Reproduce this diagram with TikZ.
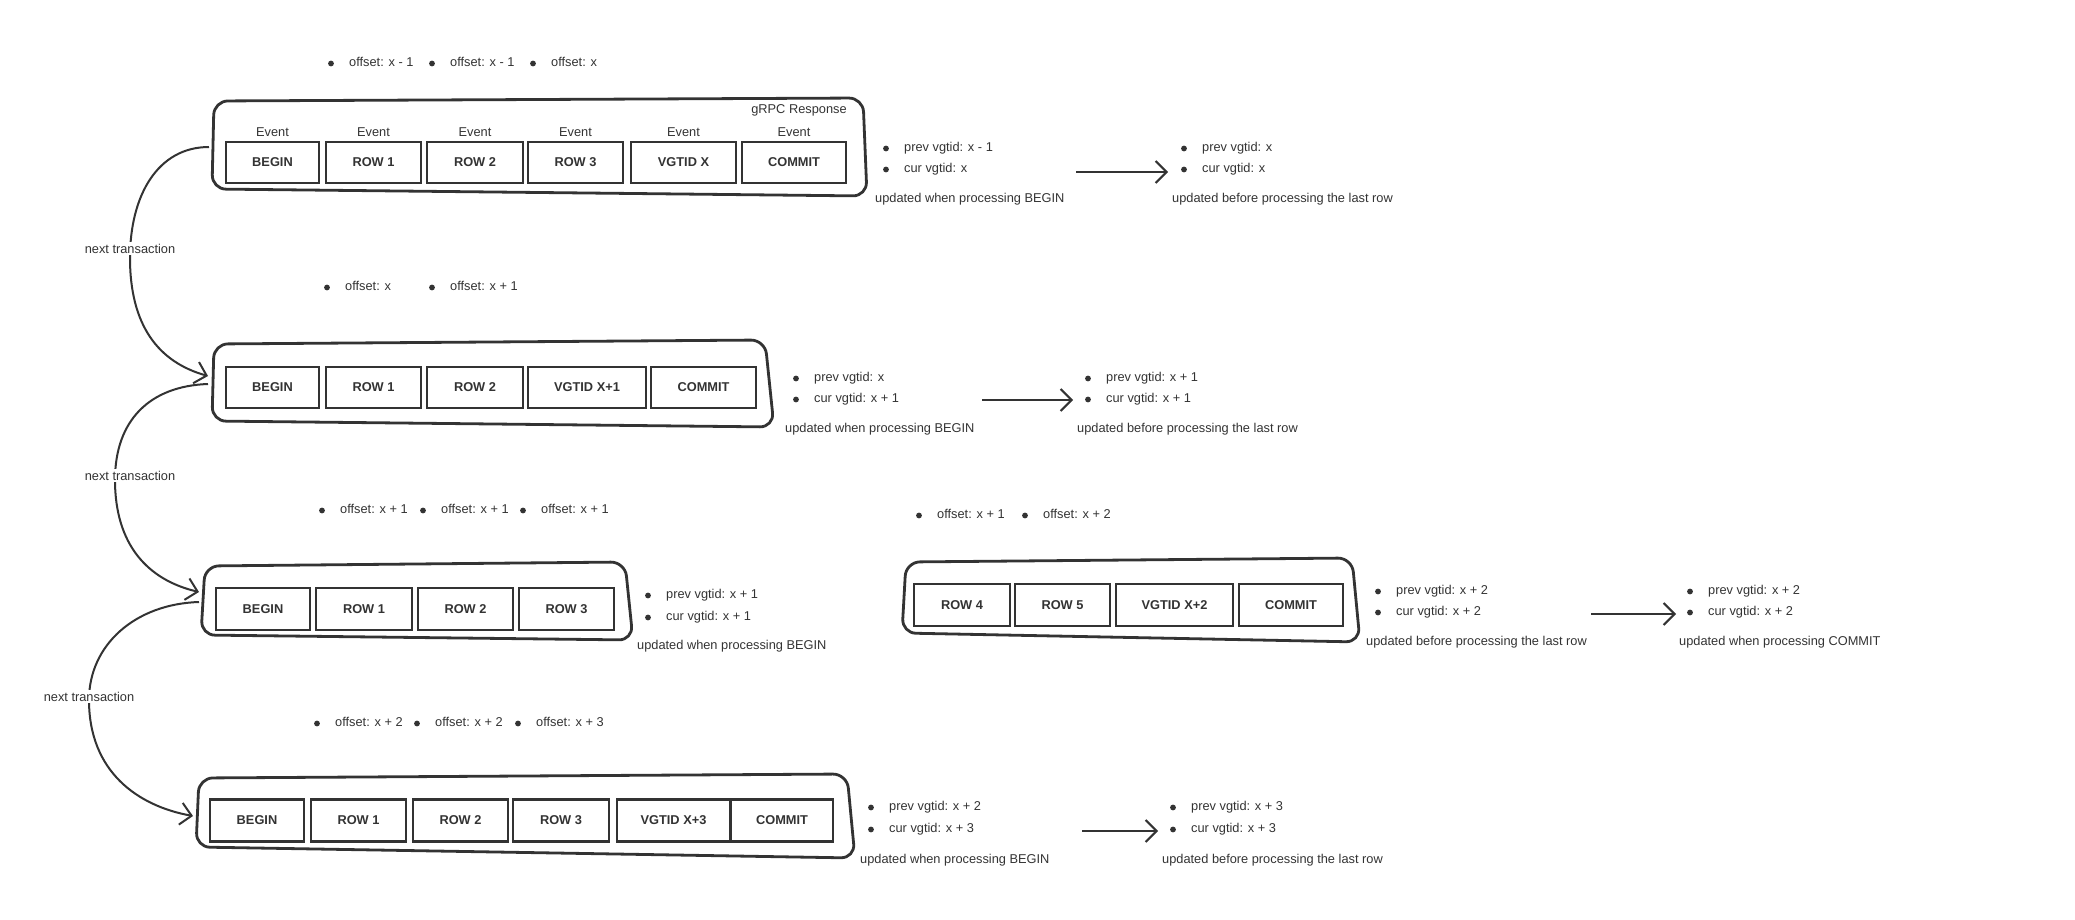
\documentclass[tikz,border=0pt]{standalone}
\usepackage{fontspec}
\setmainfont{Liberation Sans}
\usetikzlibrary{arrows.meta}
\definecolor{ink}{HTML}{333333}
\begin{document}
\begin{tikzpicture}[x=1pt,y=-1pt,
  txt/.style={font=\fontsize{12.8}{15}\selectfont, text=ink, inner sep=0pt, anchor=mid west, yshift=-2.5pt},
  btxt/.style={txt},
  ctxt/.style={txt, anchor=mid},
  evbox/.style={draw=ink, line width=2.7pt, fill=white, minimum height=41pt, inner sep=0pt,
    font=\bfseries\fontsize{12.8}{15}\selectfont, text=ink},
  cont/.style={draw=ink, line width=2.8pt, rounded corners=14pt, line join=round},
  conn/.style={draw=ink, line width=2pt, -{Straight Barb[length=11pt,width=22pt,line width=2pt]}},
  lbl/.style={txt, anchor=mid, fill=white, inner sep=1.5pt}
]
\useasboundingbox (0,0) rectangle (2075,920);

% ---------------- containers ----------------
\draw[cont] (214,101) -- (863,98) -- (867,196) -- (212,189) -- cycle;
\draw[cont] (214,344) -- (765,340) -- (774,427) -- (212,421) -- cycle;
\draw[cont] (205,566) -- (625,562) -- (633,640) -- (201,635) -- cycle;
\draw[cont] (906,562) -- (1352,558) -- (1360,642) -- (902,633) -- cycle;
\draw[cont] (199,778) -- (847,774) -- (855,858) -- (196,847) -- cycle;

% ---------------- row 1 ----------------
\node[btxt] (o11) at (349,61) {offset: x - 1};
\node[btxt] (o12) at (450,61) {offset: x - 1};
\node[btxt] (o13) at (551,61) {offset: x};
\node[ctxt] (grpc) at (799,108) {gRPC Response};
\node[evbox, minimum width=93pt] (a1) at (272.5,162.5) {BEGIN};
\node[evbox, minimum width=95pt] (a2) at (373.5,162.5) {ROW 1};
\node[evbox, minimum width=96pt] (a3) at (475,162.5) {ROW 2};
\node[evbox, minimum width=95pt] (a4) at (575.5,162.5) {ROW 3};
\node[evbox, minimum width=105pt] (a5) at (683.5,162.5) {VGTID X};
\node[evbox, minimum width=104pt] (a6) at (794,162.5) {COMMIT};
\foreach \n in {1,...,6} {\node[ctxt] (ev\n) at (a\n.center |- 0,131) {Event};}
\node[btxt] (v11) at (904,146) {prev vgtid: x - 1};
\node[btxt] (v12) at (904,167) {cur vgtid: x};
\node[txt] (u11) at (875,197) {updated when processing BEGIN};
\node[btxt] (v13) at (1202,146) {prev vgtid: x};
\node[btxt] (v14) at (1202,167) {cur vgtid: x};
\node[txt] (u12) at (1172,197) {updated before processing the last row};
\coordinate (r1s) at (1076,172);
\coordinate (r1e) at (1168,172);
\draw[conn] (r1s) -- (r1e);

% ---------------- row 2 ----------------
\node[btxt] (o21) at (345,285) {offset: x};
\node[btxt] (o22) at (450,285) {offset: x + 1};
\node[evbox, minimum width=93pt] (b1) at (272.5,387.5) {BEGIN};
\node[evbox, minimum width=95pt] (b2) at (373.5,387.5) {ROW 1};
\node[evbox, minimum width=96pt] (b3) at (475,387.5) {ROW 2};
\node[evbox, minimum width=118pt] (b4) at (587,387.5) {VGTID X+1};
\node[evbox, minimum width=105pt] (b5) at (703.5,387.5) {COMMIT};
\node[btxt] (v21) at (814,376) {prev vgtid: x};
\node[btxt] (v22) at (814,397) {cur vgtid: x + 1};
\node[txt] (u21) at (785,427) {updated when processing BEGIN};
\node[btxt] (v23) at (1106,376) {prev vgtid: x + 1};
\node[btxt] (v24) at (1106,397) {cur vgtid: x + 1};
\node[txt] (u22) at (1077,427) {updated before processing the last row};
\coordinate (r2s) at (982,400);
\coordinate (r2e) at (1073,400);
\draw[conn] (r2s) -- (r2e);

% ---------------- row 3 ----------------
\node[btxt] (o31) at (340,508) {offset: x + 1};
\node[btxt] (o32) at (441,508) {offset: x + 1};
\node[btxt] (o33) at (541,508) {offset: x + 1};
\node[evbox, minimum width=94pt, minimum height=42pt] (c1) at (263,609) {BEGIN};
\node[evbox, minimum width=96pt, minimum height=42pt] (c2) at (364,609) {ROW 1};
\node[evbox, minimum width=95pt, minimum height=42pt] (c3) at (465.5,609) {ROW 2};
\node[evbox, minimum width=95pt, minimum height=42pt] (c4) at (566.5,609) {ROW 3};
\node[btxt] (v31) at (666,593) {prev vgtid: x + 1};
\node[btxt] (v32) at (666,615) {cur vgtid: x + 1};
\node[txt] (u31) at (637,644) {updated when processing BEGIN};

% ---------------- row 3b ----------------
\node[btxt] (o34) at (937,513) {offset: x + 1};
\node[btxt] (o35) at (1043,513) {offset: x + 2};
\node[evbox, minimum width=96pt, minimum height=42pt] (d1) at (962,605) {ROW 4};
\node[evbox, minimum width=95pt, minimum height=42pt] (d2) at (1062.5,605) {ROW 5};
\node[evbox, minimum width=117pt, minimum height=42pt] (d3) at (1174.5,605) {VGTID X+2};
\node[evbox, minimum width=104pt, minimum height=42pt] (d4) at (1291,605) {COMMIT};
\node[btxt] (v33) at (1396,589) {prev vgtid: x + 2};
\node[btxt] (v34) at (1396,610) {cur vgtid: x + 2};
\node[txt] (u32) at (1366,640) {updated before processing the last row};
\node[btxt] (v35) at (1708,589) {prev vgtid: x + 2};
\node[btxt] (v36) at (1708,610) {cur vgtid: x + 2};
\node[txt] (u33) at (1679,640) {updated when processing COMMIT};
\coordinate (r3s) at (1591,614);
\coordinate (r3e) at (1676,614);
\draw[conn] (r3s) -- (r3e);

% ---------------- row 4 ----------------
\node[btxt] (o41) at (335,721) {offset: x + 2};
\node[btxt] (o42) at (435,721) {offset: x + 2};
\node[btxt] (o43) at (536,721) {offset: x + 3};
\node[evbox, minimum width=94pt, minimum height=42pt] (e1) at (257,820.5) {BEGIN};
\node[evbox, minimum width=95pt, minimum height=42pt] (e2) at (358.5,820.5) {ROW 1};
\node[evbox, minimum width=95pt, minimum height=42pt] (e3) at (460.5,820.5) {ROW 2};
\node[evbox, minimum width=96pt, minimum height=42pt] (e4) at (561,820.5) {ROW 3};
\node[evbox, minimum width=113pt, minimum height=42pt] (e5) at (673.5,820.5) {VGTID X+3};
\node[evbox, minimum width=102pt, minimum height=42pt] (e6) at (782,820.5) {COMMIT};
\node[btxt] (v41) at (889,805) {prev vgtid: x + 2};
\node[btxt] (v42) at (889,827) {cur vgtid: x + 3};
\node[txt] (u41) at (860,858) {updated when processing BEGIN};
\node[btxt] (v43) at (1191,805) {prev vgtid: x + 3};
\node[btxt] (v44) at (1191,827) {cur vgtid: x + 3};
\node[txt] (u42) at (1162,858) {updated before processing the last row};
\coordinate (r4s) at (1082,831);
\coordinate (r4e) at (1158,831);
\draw[conn] (r4s) -- (r4e);

% ---------------- bullets ----------------
\foreach \n in {o11,o12,o13,v11,v12,v13,v14,o21,o22,v21,v22,v23,v24,o31,o32,o33,v31,v32,
                o34,o35,v33,v34,v35,v36,o41,o42,o43,v41,v42,v43,v44}
  {\fill[ink] ([xshift=-18pt]\n.mid west) circle (2.9pt);}

% ---------------- next transaction curves ----------------
\coordinate (s1) at (209,147);  \coordinate (m1) at (130,258); \coordinate (t1) at (208,376);
\coordinate (s2) at (208,384);  \coordinate (m2) at (115,480); \coordinate (t2) at (199,592);
\coordinate (s3) at (199,602);  \coordinate (m3) at (89,700);  \coordinate (t3) at (193,816);
\draw[conn] (s1) .. controls (158,147) and (130,195) .. (m1) .. controls (130,325) and (158,362) .. (t1);
\draw[conn] (s2) .. controls (150,386) and (115,420) .. (m2) .. controls (115,545) and (148,580) .. (t2);
\draw[conn] (s3) .. controls (135,604) and (89,645) .. (m3) .. controls (89,772) and (138,806) .. (t3);
\node[lbl] (n1) at (130,248) {next transaction};
\node[lbl] (n2) at (130,475) {next transaction};
\node[lbl] (n3) at (89,696) {next transaction};
\end{tikzpicture}
\end{document}
